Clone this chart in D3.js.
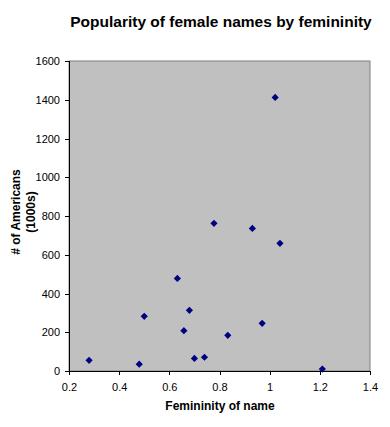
<!DOCTYPE html>
<html><head><meta charset="utf-8">
<script src="https://cdn.jsdelivr.net/npm/d3@7"></script>
<style>body{margin:0;background:#fff}svg{display:block}text{font-family:Arial,"Liberation Sans",sans-serif}</style>
</head><body>
<script>
const femininity = [0.28,0.48,0.50,0.632,0.658,0.68,0.70,0.74,0.778,0.833,0.931,0.97,1.022,1.041,1.21];
const americans  = [55,35,282,478,208,313,65,71,762,184,736,246,1412,659,10];
const xTicks = [0.2,0.4,0.6,0.8,1,1.2,1.4];
const yTicks = [0,200,400,600,800,1000,1200,1400,1600];

const W=390,H=427;
const svg=d3.select("body").append("svg").attr("width",W).attr("height",H);
const x=d3.scaleLinear().domain([0.2,1.4]).range([69,370]);
const y=d3.scaleLinear().domain([0,1600]).range([371,61]);

svg.append("rect").attr("x",69).attr("y",61).attr("width",301).attr("height",310)
  .attr("fill","#c0c0c0").attr("stroke","#808080").attr("stroke-width",1);

const xa=svg.append("g").attr("transform","translate(0,371)")
  .call(d3.axisBottom(x).tickValues(xTicks).tickFormat(d=>String(d)).tickSize(4).tickPadding(8));
const ya=svg.append("g").attr("transform","translate(69,0)")
  .call(d3.axisLeft(y).tickValues(yTicks).tickFormat(d=>String(d)).tickSize(4).tickPadding(5));
[xa,ya].forEach(g=>{
  g.selectAll("path").attr("stroke","#000").attr("shape-rendering","crispEdges");
  g.selectAll("line").attr("stroke","#000").attr("shape-rendering","crispEdges");
  g.selectAll("text").attr("font-size","11px").attr("fill","#000").attr("font-family","Arial,'Liberation Sans',sans-serif");
});
xa.select(".domain").attr("d","M69.5,0.5H370.5");
ya.select(".domain").attr("d","M0.5,61H0.5V371.5");

const marker=d3.symbol().type(d3.symbolSquare).size(26);
svg.append("g").selectAll("path").data(femininity).join("path")
  .attr("d",marker)
  .attr("transform",(d,i)=>`translate(${x(d)},${y(americans[i])}) rotate(45)`)
  .attr("fill","#000080");

svg.append("text").attr("x",221).attr("y",27).attr("text-anchor","middle")
  .attr("font-size","15.5px").attr("font-weight","bold").text("Popularity of female names by femininity");
svg.append("text").attr("x",220).attr("y",410).attr("text-anchor","middle")
  .attr("font-size","12px").attr("font-weight","bold").text("Femininity of name");
const yt=svg.append("text").attr("transform","translate(0,212) rotate(-90)").attr("text-anchor","middle")
  .attr("font-size","12px").attr("font-weight","bold");
yt.append("tspan").attr("x",0).attr("y",20).text("# of Americans");
yt.append("tspan").attr("x",0).attr("y",35).text("(1000s)");
</script>
</body></html>
